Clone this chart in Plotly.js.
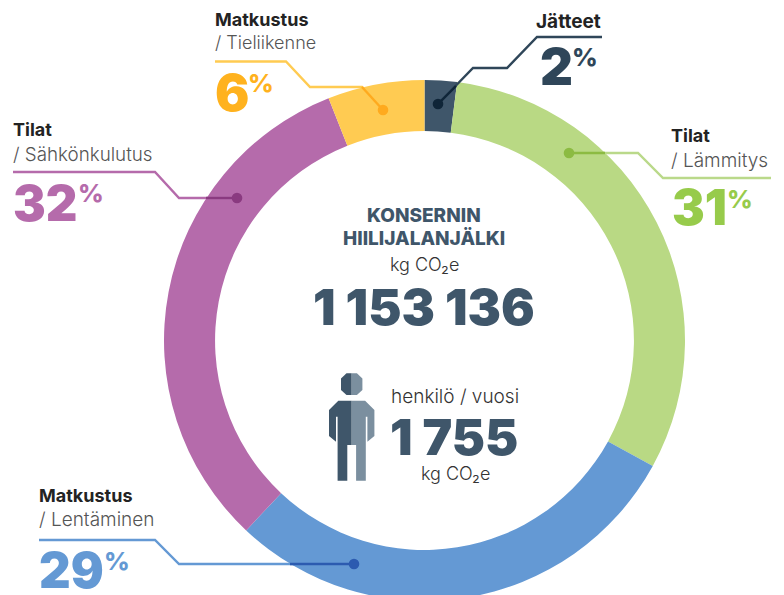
<!DOCTYPE html>
<html><head><meta charset="utf-8">
<script src="https://cdn.plot.ly/plotly-3.0.1.min.js"></script>
<style>html,body{margin:0;padding:0;background:#fff;overflow:hidden;width:784px;height:595px}</style>
</head><body><div id="chart" style="width:784px;height:621px"></div>
<script>
const categories = ['Jätteet','Tilat / Lämmitys','Matkustus / Lentäminen','Tilat / Sähkönkulutus','Matkustus / Tieliikenne'];
const shares = [2,31,29,32,6];
const sliceColors = ['#3F566A','#B9D984','#6499D4','#B56BAB','#FFCB52'];
const W = 784, H = 621;
const F = 'Inter, "Noto Sans", sans-serif';
const NAVY = '#3F566A', INK = '#232323', GREY = '#555555';
const px = x => x / W, py = y => 1 - y / H;
const anns = [], shapes = [];
function txt(text, x, y, size, color, weight, anchor) {
  anns.push({text, x: px(x), y: py(y), xref:'paper', yref:'paper', xanchor: anchor||'left', yanchor:'middle',
    showarrow:false, borderpad:0, align: anchor==='right'?'right':(anchor==='center'?'center':'left'),
    font:{family:F, size, color, weight: weight||400}});
}
function path(pts, color, width) {
  shapes.push({type:'path', xref:'paper', yref:'paper', layer:'above',
    path:'M'+pts.map(p=>px(p[0])+','+py(p[1])).join(' L'), line:{color, width}});
}
function poly(pts, color) {
  shapes.push({type:'path', xref:'paper', yref:'paper', layer:'above',
    path:'M'+pts.map(p=>px(p[0])+','+py(p[1])).join(' L')+' Z', fillcolor:color, line:{width:0}});
}
function dot(x, y, r, color) {
  shapes.push({type:'circle', xref:'paper', yref:'paper', layer:'above',
    x0:px(x-r), x1:px(x+r), y0:py(y+r), y1:py(y-r), fillcolor:color, line:{width:0}});
}
function callout(pts, lineColor, darkFrom, darkColor) {
  path(pts, lineColor, 2.4);
  path([darkFrom, pts[pts.length-1]], darkColor, 2.4);
  const e = pts[pts.length-1]; dot(e[0], e[1], 5.3, darkColor);
}
// connectors
callout([[13,172],[155,172],[179,198],[237,198]], '#B56BAB', [206,198], '#8A3A80');
callout([[771,178],[663,178],[638,153],[569,153]], '#BAD98A', [605,153], '#8CBB42');
callout([[215,61.5],[286,61.5],[310,87],[362,87],[383,110]], '#FFCB52', [362,87], '#FFAA1E');
callout([[602,37],[537,37],[507,68],[473,68],[438,104]], '#2F4659', [456,86], '#0F2538');
callout([[39,540],[155,540],[179,564],[354,564]], '#6499D4', [290,564], '#2C5BB0');
// person icon
const L = [[351.7,400.7],[338.3,400.7],[329,410],[329,436],[336,441.7],[336,416.7],[337.6,416.7],[337.6,480.7],[347.3,480.7],[347.3,445],[351.7,445]];
const head = [[351.7,373.3],[346.5,373.3],[341,378.5],[341,390],[346.5,395],[351.7,395]];
const mirror = a => a.map(p=>[703.4-p[0],p[1]]);
poly(L, NAVY); poly(head, NAVY); poly(mirror(L), '#7B8F9F'); poly(mirror(head), '#7B8F9F');
// labels
txt('Matkustus',214,19,18,INK,700); txt('/ Tieliikenne',214,43,18,GREY,300);
txt('6',214,92,51,'#FFB21E',900); txt('%',247,83,25,'#FFB21E',800);
txt('Jätteet',602,21,19,INK,700,'right');
txt('2',539,66,51,'#2F4659',900); txt('%',571,57,25,'#2F4659',800);
txt('Tilat',12,129,18,INK,700); txt('/ Sähkönkulutus',12,154,18.8,GREY,300);
txt('32',12,203,49,'#B56BAB',900); txt('%',77,193,25,'#B56BAB',800);
txt('Tilat',670,136,18,INK,700); txt('/ Lämmitys',670,160,19,GREY,300);
txt('31',671,208,49,'#97CB4B',900); txt('%',726,199,25,'#97CB4B',800);
txt('Matkustus',38,495,18,INK,700); txt('/ Lentäminen',38,519,19,GREY,300);
txt('29',38,570,49,'#6499D4',900); txt('%',103,561,25,'#6499D4',800);
// centre
txt('KONSERNIN',424,215,19,NAVY,800,'center'); txt('HIILIJALANJÄLKI',424,239,19,NAVY,800,'center');
txt('kg CO₂e',424,264,18,'#333333',300,'center');
txt('1 153 136',424,307,50,NAVY,900,'center');
txt('henkilö / vuosi',455,397,19,'#333333',300,'center');
txt('1 755',454,437,50,NAVY,900,'center');
txt('kg CO₂e',455,474,18,'#333333',300,'center');

Plotly.newPlot('chart',[{
  type:'pie', labels:categories, values:shares, sort:false, direction:'clockwise', rotation:0,
  hole:0.804, textinfo:'none', hoverinfo:'label+percent',
  marker:{colors:sliceColors, line:{width:0}},
  domain:{x:[164/W,685/W], y:[(H-601)/H,(H-80)/H]}
}],{
  width:W, height:H, margin:{l:0,r:0,t:0,b:0,pad:0}, showlegend:false,
  paper_bgcolor:'#fff', plot_bgcolor:'#fff', annotations:anns, shapes:shapes
},{displayModeBar:false, responsive:false});
</script></body></html>
